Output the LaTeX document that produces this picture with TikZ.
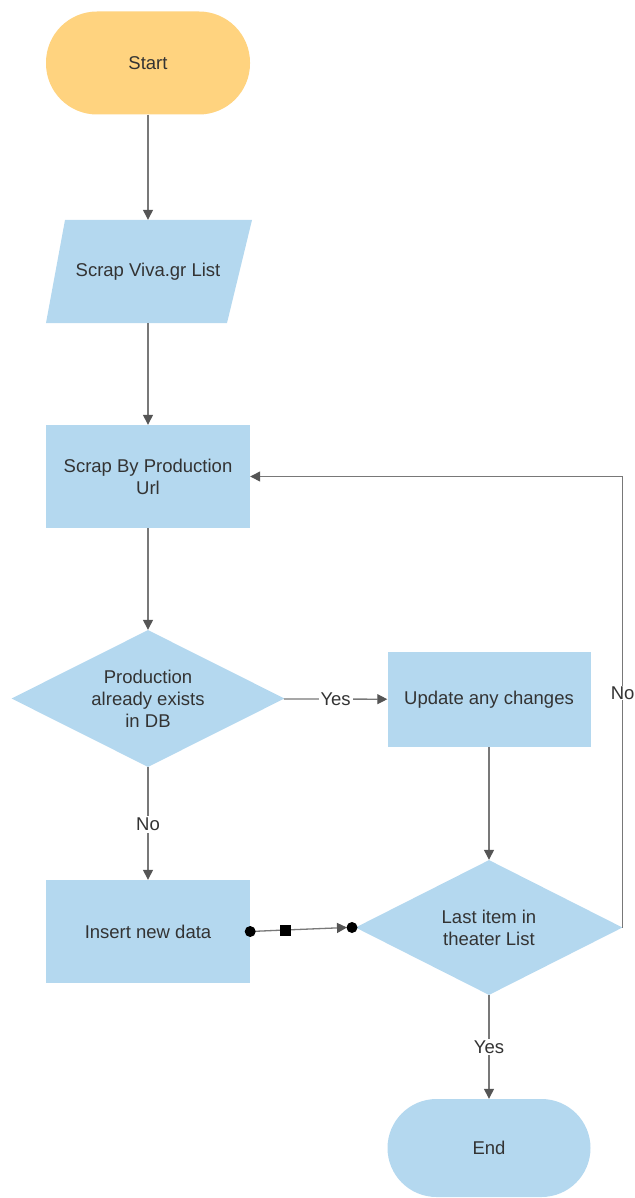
\documentclass[tikz,border=0pt]{standalone}
\usepackage{fontspec}
\setmainfont{Liberation Sans}
\usetikzlibrary{arrows.meta,shapes.geometric}
\definecolor{boxblue}{RGB}{180,216,239}
\definecolor{startorange}{RGB}{255,211,127}
\definecolor{txt}{RGB}{51,51,51}
\definecolor{wire}{RGB}{120,120,120}
\definecolor{tipgray}{RGB}{85,85,85}
\begin{document}
\begin{tikzpicture}[x=1pt,y=-1pt,
  every node/.style={font=\fontsize{18.5}{22}\selectfont, text=txt, inner sep=0pt, align=center},
  procbox/.style={rectangle, fill=boxblue, minimum width=204pt, minimum height=103pt},
  termbox/.style={rectangle, rounded corners=51pt, minimum width=204pt, minimum height=103pt},
  decision/.style={diamond, aspect=2, fill=boxblue, inner sep=0pt},
  conn/.style={draw=wire, line width=1.3pt, -{Triangle[length=10pt,width=10pt,fill=tipgray,color=tipgray]}},
  lbl/.style={fill=white, inner sep=2pt}]
\useasboundingbox (0,0) rectangle (634,1198);

% terminals and process steps
\node[termbox, fill=startorange] (start) at (148,63) {Start};
\fill[boxblue] (65,220) -- (252,220) -- (227,323) -- (46,323) -- cycle;
\node[minimum width=190pt, minimum height=103pt] (list) at (148,271.5) {Scrap Viva.gr List};
\node[procbox] (prod) at (148,476.5) {Scrap By Production\\Url};
\node[decision, minimum width=273pt, minimum height=137pt] (exists) at (148,698.5) {Production\\already exists\\in DB};
\node[procbox, minimum width=203pt, minimum height=95pt] (update) at (489,699.5) {Update any changes};
\node[procbox] (insert) at (148,931.5) {Insert new data};
\node[decision, minimum width=267pt, minimum height=135pt] (last) at (489,927.5) {Last item in\\theater List};
\node[termbox, fill=boxblue, minimum width=203pt, minimum height=98pt, rounded corners=49pt] (end) at (489,1148) {End};

% connectors
\draw[conn] (start) -- (list);
\draw[conn] (list.south) -- (prod.north);
\draw[conn] (prod) -- (exists);
\draw[conn] (exists) -- node[lbl, pos=0.5] {Yes} (update);
\draw[conn] (exists) -- node[lbl, pos=0.51] {No} (insert);
\draw[conn] (update) -- (last);
\draw[conn] (last) -- node[lbl, pos=0.5] {Yes} (end);
\draw[conn] (last.east) |- node[lbl, pos=0.26, inner sep=1pt] {No} (prod.east);

% link from insert to the loop test, with its end markers
\coordinate (mark) at (285,930);
\coordinate (hit) at (352,927.5);
\draw[draw=wire, line width=1.3pt] (insert.east) -- (mark);
\draw[draw=wire, line width=1.3pt, -{Triangle[length=10pt,width=10pt,fill=tipgray,color=tipgray]}] (mark) -- ([xshift=-5pt]hit);
\fill[black] (insert.east) circle (5.5pt);
\fill[black] (mark) ++(-5.5,-5.5) rectangle ++(11,11);
\fill[black] (hit) circle (5.5pt);
\end{tikzpicture}
\end{document}
